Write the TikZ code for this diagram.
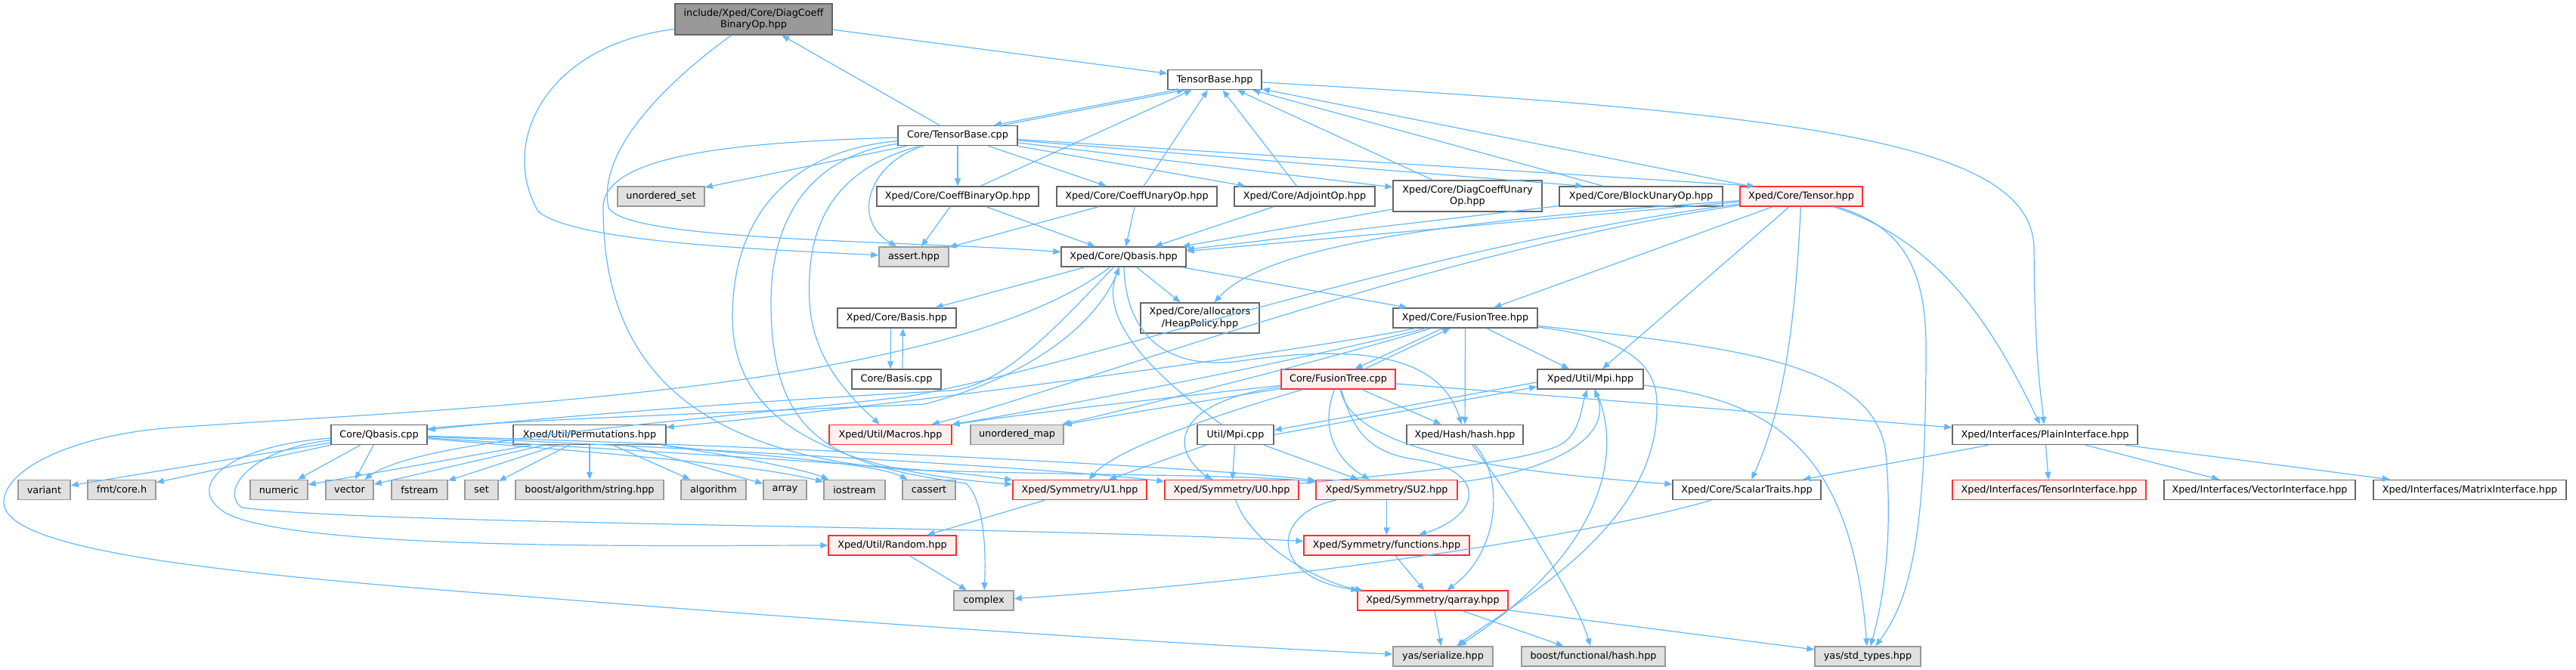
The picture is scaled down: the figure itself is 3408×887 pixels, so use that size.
\documentclass[tikz,border=0pt]{standalone}
\usepackage{fontspec}
\setmainfont{DejaVu Sans}
\usetikzlibrary{arrows.meta}
\definecolor{EdgeBlue} {HTML}{63B8FF}
\definecolor{BoxLine}  {HTML}{666666}
\definecolor{SysLine}  {HTML}{999999}
\definecolor{SysFill}  {HTML}{E0E0E0}
\definecolor{RootFill} {HTML}{999999}
\definecolor{TruncFill}{HTML}{FFF0F0}
\definecolor{TruncLine}{HTML}{FF3030}

\tikzset{
  file/.style={draw=BoxLine, fill=white, line width=0.75pt, inner sep=0pt,
    minimum height=13pt, align=center, font=\fontsize{6.4}{7.8}\selectfont},
  sysfile/.style={file, draw=SysLine, fill=SysFill},
  truncfile/.style={file, draw=TruncLine, fill=TruncFill, line width=0.65pt},
  rootfile/.style={file, fill=RootFill},
  dep/.style={draw=EdgeBlue, line width=0.6pt, -{Triangle[length=5pt,width=4pt]}},
}

\begin{document}
\begin{tikzpicture}[x=0.5pt, y=-0.5pt]
  \useasboundingbox (0,0) rectangle (3408,887);

  % ===== TOP ROWS =====
  \node[rootfile, minimum width=104pt, minimum height=20.5pt] (root) at (997,25.5) {include/Xped/Core/DiagCoeff\\BinaryOp.hpp};
  \node[file, minimum width=62pt] (tbh) at (1607,105.5) {TensorBase.hpp};
  \node[file, minimum width=79pt] (tbcpp) at (1267,179.5) {Core/TensorBase.cpp};

  \node[sysfile, minimum width=57.5pt] (uset) at (874.5,260) {unordered\_set};
  \node[file, minimum width=107pt] (cbin) at (1267,260) {Xped/Core/CoeffBinaryOp.hpp};
  \node[file, minimum width=106pt] (cun) at (1504,260) {Xped/Core/CoeffUnaryOp.hpp};
  \node[file, minimum width=93pt] (adj) at (1726,260) {Xped/Core/AdjointOp.hpp};
  \node[file, minimum width=98.5pt, minimum height=20.5pt] (dcu) at (1941.5,259.5) {Xped/Core/DiagCoeffUnary\\Op.hpp};
  \node[file, minimum width=108pt] (bun) at (2171,260) {Xped/Core/BlockUnaryOp.hpp};
  \node[truncfile, minimum width=81pt] (tensor) at (2383,260) {Xped/Core/Tensor.hpp};

  \node[sysfile, minimum width=46pt] (assert) at (1209,340) {assert.hpp};
  \node[file, minimum width=82.5pt] (qbasis) at (1486.5,340) {Xped/Core/Qbasis.hpp};

  \node[file, minimum width=78.5pt] (basis) at (1186.5,421) {Xped/Core/Basis.hpp};
  \node[file, minimum width=78.5pt, minimum height=20pt] (heap) at (1587.5,421) {Xped/Core/allocators\\/HeapPolicy.hpp};
  \node[file, minimum width=95.5pt] (ftree) at (1938.5,421) {Xped/Core/FusionTree.hpp};

  \node[file, minimum width=59pt] (basiscpp) at (1186,502) {Core/Basis.cpp};
  \node[truncfile, minimum width=75.5pt] (ftcpp) at (1770.5,502) {Core/FusionTree.cpp};
  \node[file, minimum width=70pt] (mpi) at (2104,502) {Xped/Util/Mpi.hpp};

  % ===== MIDDLE ROW =====
  \node[file, minimum width=63.5pt] (qbcpp) at (501.5,575.5) {Core/Qbasis.cpp};
  \node[file, minimum width=101pt] (perm) at (780,575.5) {Xped/Util/Permutations.hpp};
  \node[truncfile, minimum width=81pt] (macros) at (1178,575.5) {Xped/Util/Macros.hpp};
  \node[sysfile, minimum width=61.5pt] (umap) at (1345.5,575.5) {unordered\_map};
  \node[file, minimum width=50.5pt] (mpicpp) at (1634.5,575.5) {Util/Mpi.cpp};
  \node[file, minimum width=77pt] (hash) at (1938,575.5) {Xped/Hash/hash.hpp};
  \node[file, minimum width=122.5pt] (plain) at (2705.5,575.5) {Xped/Interfaces/PlainInterface.hpp};

  % ===== LEAF ROW =====
  \node[sysfile, minimum width=34.5pt] (variant) at (58.5,648.5) {variant};
  \node[sysfile, minimum width=45pt] (fmt) at (161,648.5) {fmt/core.h};
  \node[sysfile, minimum width=38pt] (numeric) at (369,648.5) {numeric};
  \node[sysfile, minimum width=31.5pt] (vector) at (462.5,648.5) {vector};
  \node[sysfile, minimum width=37pt] (fstream) at (555,648.5) {fstream};
  \node[sysfile, minimum width=22pt] (set) at (637,648.5) {set};
  \node[sysfile, minimum width=98pt] (boost) at (780,648.5) {boost/algorithm/string.hpp};
  \node[sysfile, minimum width=43pt] (algorithm) at (944,648.5) {algorithm};
  \node[sysfile, minimum width=28.5pt] (array) at (1038.5,648.5) {array};
  \node[sysfile, minimum width=40.5pt] (iostream) at (1130.5,648.5) {iostream};
  \node[sysfile, minimum width=35pt] (cassert) at (1229,648.5) {cassert};
  \node[truncfile, minimum width=88.5pt] (u1) at (1428.5,648.5) {Xped/Symmetry/U1.hpp};
  \node[truncfile, minimum width=88.5pt] (u0) at (1629.5,648.5) {Xped/Symmetry/U0.hpp};
  \node[truncfile, minimum width=93.5pt] (su2) at (1834.5,648.5) {Xped/Symmetry/SU2.hpp};
  \node[file, minimum width=98pt] (scalar) at (2311,648.5) {Xped/Core/ScalarTraits.hpp};
  \node[truncfile, minimum width=128pt] (tinter) at (2711,648.5) {Xped/Interfaces/TensorInterface.hpp};
  \node[file, minimum width=126.5pt] (vinter) at (2989.5,648.5) {Xped/Interfaces/VectorInterface.hpp};
  \node[file, minimum width=127.5pt] (minter) at (3267.5,648.5) {Xped/Interfaces/MatrixInterface.hpp};

  \node[truncfile, minimum width=84.5pt] (random) at (1180.5,722) {Xped/Util/Random.hpp};
  \node[truncfile, minimum width=109.5pt] (func) at (1834.5,722) {Xped/Symmetry/functions.hpp};
  \node[sysfile, minimum width=39.5pt] (complex) at (1301.5,795) {complex};
  \node[truncfile, minimum width=99.5pt] (qarray) at (1895.5,795) {Xped/Symmetry/qarray.hpp};
  \node[sysfile, minimum width=66pt] (yser) at (1909,869) {yas/serialize.hpp};
  \node[sysfile, minimum width=95pt] (bfh) at (2108,869) {boost/functional/hash.hpp};
  \node[sysfile, minimum width=70pt] (ystd) at (2471,869) {yas/std\_types.hpp};

  % ===== ROOT =====
  \draw[dep] (root) -- (tbh);
  \draw[dep] (root) .. controls (720,60) and (660,190) .. (712,280) .. controls (760,320) and (1000,330) .. (assert);
  \draw[dep] (root) .. controls (880,110) and (790,200) .. (805,275) .. controls (830,320) and (1200,318) .. (qbasis);
  \draw[dep] (tbcpp) -- (root);

  % ===== TENSORBASE =====
  \draw[dep] ([xshift=-26pt]tbh.south) -- ([xshift=24pt]tbcpp.north);
  \draw[dep] ([xshift=30pt]tbcpp.north) -- ([xshift=-20pt]tbh.south);
  \draw[dep] (tbh) .. controls (2400,150) and (2690,190) .. (2691,330) .. controls (2692,480) and (2700,520) .. (plain);
  \draw[dep] (tbcpp) -- (uset);
  \draw[dep] (tbcpp) .. controls (1150,215) and (1125,290) .. (assert);
  \draw[dep] (tbcpp) -- (cbin);
  \draw[dep] (tbcpp) -- (cun);
  \draw[dep] (tbcpp) -- (adj);
  \draw[dep] (tbcpp) -- (dcu);
  \draw[dep] (tbcpp) -- ([xshift=16pt]bun.north west);
  \draw[dep] (tbcpp) -- ([xshift=10pt]tensor.north west);
  \draw[dep] (tbcpp) .. controls (1100,225) and (1066,300) .. (1071,400) .. controls (1075,480) and (1130,530) .. (macros);
  \draw[dep] (tbcpp) .. controls (1080,205) and (1020,280) .. (1020,400) .. controls (1020,580) and (1100,615) .. (1278,640) .. controls (1300,660) and (1305,720) .. (complex);
  \draw[dep] (tbcpp) .. controls (1040,200) and (969,290) .. (969,420) .. controls (969,560) and (1100,622) .. (u1);
  \draw[dep] (tbcpp) .. controls (1000,188) and (798,200) .. (798,275) .. controls (798,470) and (900,600) .. (1200,622) .. controls (1450,630) and (1650,628) .. (su2);

  % ===== OPERATORS =====
  \draw[dep] (cbin) -- (tbh);
  \draw[dep] (cun) -- (tbh);
  \draw[dep] (adj) -- (tbh);
  \draw[dep] (dcu) -- (tbh);
  \draw[dep] (bun) -- (tbh);
  \draw[dep] (tensor) -- (tbh);
  \draw[dep] (cbin) -- (assert);
  \draw[dep] (cbin) -- (qbasis);
  \draw[dep] (cun) -- (assert);
  \draw[dep] (cun) -- (qbasis);
  \draw[dep] (adj) -- (qbasis);
  \draw[dep] (dcu) -- (qbasis);
  \draw[dep] (bun) -- (qbasis);

  % ===== TENSOR =====
  \draw[dep] (tensor) -- (qbasis);
  \draw[dep] (tensor) .. controls (1950,290) and (1680,320) .. (heap);
  \draw[dep] (tensor) -- (ftree);
  \draw[dep] (tensor) -- (mpi);
  \draw[dep] (tensor) .. controls (2375,430) and (2360,540) .. (scalar);
  \draw[dep] (tensor) .. controls (2520,300) and (2548,360) .. (2548,460) .. controls (2548,700) and (2530,790) .. (ystd);
  \draw[dep] (tensor) .. controls (2570,320) and (2640,440) .. (plain);
  \draw[dep] (tensor) .. controls (1900,330) and (1400,520) .. (macros);
  \draw[dep] (tensor) .. controls (1900,320) and (1450,480) .. (1200,525) .. controls (900,560) and (560,580) .. (vector);

  % ===== QBASIS =====
  \draw[dep] (qbasis) -- (basis);
  \draw[dep] (qbasis) -- (heap);
  \draw[dep] (qbasis) -- (ftree);
  \draw[dep] (qbasis) .. controls (1400,430) and (1330,508) .. (1260,517) .. controls (1000,530) and (700,555) .. (qbcpp);
  \draw[dep] (qbcpp) .. controls (650,557) and (1000,545) .. (1223,535) .. controls (1360,500) and (1450,430) .. (qbasis);
  \draw[dep] (qbasis) .. controls (1490,450) and (1550,490) .. (1640,478) .. controls (1800,455) and (1905,470) .. (hash);
  \draw[dep] (qbasis) .. controls (1250,520) and (600,540) .. (230,566) .. controls (100,575) and (5,620) .. (5,665)
        .. controls (5,730) and (300,760) .. (700,790) .. controls (1200,830) and (1600,855) .. (yser);
  \draw[dep] ([xshift=-4pt]basis.south) -- ([xshift=-4pt]basiscpp.north);
  \draw[dep] ([xshift=4pt]basiscpp.north) -- ([xshift=4pt]basis.south);

  % ===== CORE/QBASIS.CPP =====
  \draw[dep] (qbcpp) -- (variant);
  \draw[dep] (qbcpp) -- (fmt);
  \draw[dep] (qbcpp) -- (numeric);
  \draw[dep] (qbcpp) -- (vector);
  \draw[dep] (qbcpp) .. controls (800,600) and (1000,615) .. (iostream);
  \draw[dep] (qbcpp) .. controls (800,595) and (1200,615) .. (u1);
  \draw[dep] (qbcpp) .. controls (900,592) and (1400,620) .. (u0);
  \draw[dep] (qbcpp) .. controls (1000,590) and (1600,618) .. (su2);
  \draw[dep] (qbcpp) .. controls (300,590) and (240,645) .. (300,680) .. controls (400,730) and (900,722) .. (random);
  \draw[dep] (qbcpp) .. controls (330,595) and (290,650) .. (320,672) .. controls (500,695) and (1300,695) .. (func);

  % ===== PERMUTATIONS =====
  \draw[dep] (perm) -- (numeric);
  \draw[dep] (perm) -- (vector);
  \draw[dep] (perm) -- (fstream);
  \draw[dep] (perm) -- (set);
  \draw[dep] (perm) -- (boost);
  \draw[dep] (perm) -- (algorithm);
  \draw[dep] (perm) -- (array);
  \draw[dep] (perm) .. controls (950,600) and (1060,620) .. (iostream);
  \draw[dep] (perm) .. controls (950,600) and (1150,610) .. (cassert);

  % ===== FUSIONTREE =====
  \draw[dep] ([xshift=-15pt]ftree.south) -- ([xshift=11pt]ftcpp.north);
  \draw[dep] ([xshift=17.5pt]ftcpp.north) -- ([xshift=-10pt]ftree.south);
  \draw[dep] (ftree) -- (hash);
  \draw[dep] (ftree) -- (mpi);
  \draw[dep] (ftree) .. controls (1750,470) and (1450,530) .. (macros);
  \draw[dep] (ftree) .. controls (1760,475) and (1500,540) .. (umap);
  \draw[dep] (ftree) .. controls (1750,460) and (1250,530) .. (perm);
  \draw[dep] (ftree) .. controls (2130,445) and (2195,470) .. (2192,540) .. controls (2192,700) and (2000,800) .. (yser);
  \draw[dep] (ftree) .. controls (2300,460) and (2480,480) .. (2495,600) .. controls (2505,720) and (2490,800) .. (ystd);

  \draw[dep] (ftcpp) .. controls (1560,525) and (1350,548) .. (macros);
  \draw[dep] (ftcpp) .. controls (1600,530) and (1470,550) .. (umap);
  \draw[dep] (ftcpp) .. controls (1640,540) and (1480,590) .. (u1);
  \draw[dep] (ftcpp) .. controls (1600,525) and (1555,560) .. (1570,600) .. controls (1578,618) and (1595,630) .. (u0);
  \draw[dep] (ftcpp) .. controls (1745,570) and (1770,610) .. (su2);
  \draw[dep] (ftcpp) -- (hash);
  \draw[dep] (ftcpp) .. controls (1790,570) and (1810,598) .. (1870,608) .. controls (1965,620) and (1965,680) .. (func);
  \draw[dep] (ftcpp) .. controls (1790,600) and (2000,625) .. (scalar);
  \draw[dep] (ftcpp) -- (plain);

  % ===== MPI =====
  \draw[dep] ([yshift=-2pt]mpi.west) -- ([yshift=3pt]mpicpp.east);
  \draw[dep] (mpicpp.east) -- ([yshift=-5pt]mpi.west);
  \draw[dep] (mpi) .. controls (2150,600) and (2120,730) .. (yser);
  \draw[dep] (mpi) .. controls (2350,530) and (2450,600) .. (ystd);
  \draw[dep] (mpicpp) .. controls (1545,510) and (1450,430) .. (qbasis);
  \draw[dep] (mpicpp) -- (u1);
  \draw[dep] (mpicpp) -- (u0);
  \draw[dep] (mpicpp) -- (su2);

  % ===== SYMMETRY =====
  \draw[dep] (u1) -- (random);
  \draw[dep] (u0) .. controls (1850,628) and (2040,610) .. (2070,585) .. controls (2090,570) and (2092,540) .. (mpi);
  \draw[dep] (su2) .. controls (2050,625) and (2135,580) .. (mpi);
  \draw[dep] (su2) -- (func);
  \draw[dep] (su2) .. controls (1680,680) and (1680,765) .. (qarray);
  \draw[dep] (u0) .. controls (1660,730) and (1760,775) .. (qarray);
  \draw[dep] (func) -- (qarray);
  \draw[dep] (hash) .. controls (1990,630) and (1985,730) .. (qarray);
  \draw[dep] (hash) .. controls (2000,660) and (2085,790) .. (bfh);
  \draw[dep] (qarray) -- (yser);
  \draw[dep] (qarray) -- (bfh);
  \draw[dep] (qarray) -- (ystd);
  \draw[dep] (random) -- (complex);
  \draw[dep] (scalar) .. controls (2100,710) and (1700,770) .. (complex);

  % ===== INTERFACES =====
  \draw[dep] (plain) -- (scalar);
  \draw[dep] (plain) -- (tinter);
  \draw[dep] (plain) -- (vinter);
  \draw[dep] (plain) -- (minter);

\end{tikzpicture}
\end{document}
